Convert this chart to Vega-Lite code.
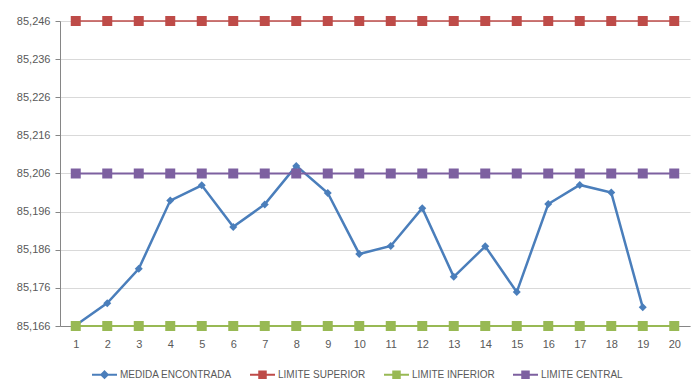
{
  "$schema": "https://vega.github.io/schema/vega-lite/v6.json",
  "width": 630,
  "height": 305,
  "autosize": {"type": "none"},
  "padding": {"left": 60, "top": 21, "right": 4, "bottom": 59},
  "background": "white",
  "config": {
    "font": "Liberation Sans",
    "view": {"stroke": null},
    "axis": {"labelFont": "Liberation Sans", "labelColor": "#595959", "labelFontSize": 11}
  },
  "data": {
    "values": [
      {"x": 1, "serie": "MEDIDA ENCONTRADA", "valor": 85.1662},
      {"x": 2, "serie": "MEDIDA ENCONTRADA", "valor": 85.1720},
      {"x": 3, "serie": "MEDIDA ENCONTRADA", "valor": 85.1810},
      {"x": 4, "serie": "MEDIDA ENCONTRADA", "valor": 85.1989},
      {"x": 5, "serie": "MEDIDA ENCONTRADA", "valor": 85.2029},
      {"x": 6, "serie": "MEDIDA ENCONTRADA", "valor": 85.1920},
      {"x": 7, "serie": "MEDIDA ENCONTRADA", "valor": 85.1979},
      {"x": 8, "serie": "MEDIDA ENCONTRADA", "valor": 85.2080},
      {"x": 9, "serie": "MEDIDA ENCONTRADA", "valor": 85.2009},
      {"x": 10, "serie": "MEDIDA ENCONTRADA", "valor": 85.1849},
      {"x": 11, "serie": "MEDIDA ENCONTRADA", "valor": 85.1870},
      {"x": 12, "serie": "MEDIDA ENCONTRADA", "valor": 85.1969},
      {"x": 13, "serie": "MEDIDA ENCONTRADA", "valor": 85.1789},
      {"x": 14, "serie": "MEDIDA ENCONTRADA", "valor": 85.1869},
      {"x": 15, "serie": "MEDIDA ENCONTRADA", "valor": 85.1749},
      {"x": 16, "serie": "MEDIDA ENCONTRADA", "valor": 85.1980},
      {"x": 17, "serie": "MEDIDA ENCONTRADA", "valor": 85.2030},
      {"x": 18, "serie": "MEDIDA ENCONTRADA", "valor": 85.2010},
      {"x": 19, "serie": "MEDIDA ENCONTRADA", "valor": 85.1709},
      {"x": 1, "serie": "LIMITE SUPERIOR", "valor": 85.246},
      {"x": 2, "serie": "LIMITE SUPERIOR", "valor": 85.246},
      {"x": 3, "serie": "LIMITE SUPERIOR", "valor": 85.246},
      {"x": 4, "serie": "LIMITE SUPERIOR", "valor": 85.246},
      {"x": 5, "serie": "LIMITE SUPERIOR", "valor": 85.246},
      {"x": 6, "serie": "LIMITE SUPERIOR", "valor": 85.246},
      {"x": 7, "serie": "LIMITE SUPERIOR", "valor": 85.246},
      {"x": 8, "serie": "LIMITE SUPERIOR", "valor": 85.246},
      {"x": 9, "serie": "LIMITE SUPERIOR", "valor": 85.246},
      {"x": 10, "serie": "LIMITE SUPERIOR", "valor": 85.246},
      {"x": 11, "serie": "LIMITE SUPERIOR", "valor": 85.246},
      {"x": 12, "serie": "LIMITE SUPERIOR", "valor": 85.246},
      {"x": 13, "serie": "LIMITE SUPERIOR", "valor": 85.246},
      {"x": 14, "serie": "LIMITE SUPERIOR", "valor": 85.246},
      {"x": 15, "serie": "LIMITE SUPERIOR", "valor": 85.246},
      {"x": 16, "serie": "LIMITE SUPERIOR", "valor": 85.246},
      {"x": 17, "serie": "LIMITE SUPERIOR", "valor": 85.246},
      {"x": 18, "serie": "LIMITE SUPERIOR", "valor": 85.246},
      {"x": 19, "serie": "LIMITE SUPERIOR", "valor": 85.246},
      {"x": 20, "serie": "LIMITE SUPERIOR", "valor": 85.246},
      {"x": 1, "serie": "LIMITE INFERIOR", "valor": 85.166},
      {"x": 2, "serie": "LIMITE INFERIOR", "valor": 85.166},
      {"x": 3, "serie": "LIMITE INFERIOR", "valor": 85.166},
      {"x": 4, "serie": "LIMITE INFERIOR", "valor": 85.166},
      {"x": 5, "serie": "LIMITE INFERIOR", "valor": 85.166},
      {"x": 6, "serie": "LIMITE INFERIOR", "valor": 85.166},
      {"x": 7, "serie": "LIMITE INFERIOR", "valor": 85.166},
      {"x": 8, "serie": "LIMITE INFERIOR", "valor": 85.166},
      {"x": 9, "serie": "LIMITE INFERIOR", "valor": 85.166},
      {"x": 10, "serie": "LIMITE INFERIOR", "valor": 85.166},
      {"x": 11, "serie": "LIMITE INFERIOR", "valor": 85.166},
      {"x": 12, "serie": "LIMITE INFERIOR", "valor": 85.166},
      {"x": 13, "serie": "LIMITE INFERIOR", "valor": 85.166},
      {"x": 14, "serie": "LIMITE INFERIOR", "valor": 85.166},
      {"x": 15, "serie": "LIMITE INFERIOR", "valor": 85.166},
      {"x": 16, "serie": "LIMITE INFERIOR", "valor": 85.166},
      {"x": 17, "serie": "LIMITE INFERIOR", "valor": 85.166},
      {"x": 18, "serie": "LIMITE INFERIOR", "valor": 85.166},
      {"x": 19, "serie": "LIMITE INFERIOR", "valor": 85.166},
      {"x": 20, "serie": "LIMITE INFERIOR", "valor": 85.166},
      {"x": 1, "serie": "LIMITE CENTRAL", "valor": 85.206},
      {"x": 2, "serie": "LIMITE CENTRAL", "valor": 85.206},
      {"x": 3, "serie": "LIMITE CENTRAL", "valor": 85.206},
      {"x": 4, "serie": "LIMITE CENTRAL", "valor": 85.206},
      {"x": 5, "serie": "LIMITE CENTRAL", "valor": 85.206},
      {"x": 6, "serie": "LIMITE CENTRAL", "valor": 85.206},
      {"x": 7, "serie": "LIMITE CENTRAL", "valor": 85.206},
      {"x": 8, "serie": "LIMITE CENTRAL", "valor": 85.206},
      {"x": 9, "serie": "LIMITE CENTRAL", "valor": 85.206},
      {"x": 10, "serie": "LIMITE CENTRAL", "valor": 85.206},
      {"x": 11, "serie": "LIMITE CENTRAL", "valor": 85.206},
      {"x": 12, "serie": "LIMITE CENTRAL", "valor": 85.206},
      {"x": 13, "serie": "LIMITE CENTRAL", "valor": 85.206},
      {"x": 14, "serie": "LIMITE CENTRAL", "valor": 85.206},
      {"x": 15, "serie": "LIMITE CENTRAL", "valor": 85.206},
      {"x": 16, "serie": "LIMITE CENTRAL", "valor": 85.206},
      {"x": 17, "serie": "LIMITE CENTRAL", "valor": 85.206},
      {"x": 18, "serie": "LIMITE CENTRAL", "valor": 85.206},
      {"x": 19, "serie": "LIMITE CENTRAL", "valor": 85.206},
      {"x": 20, "serie": "LIMITE CENTRAL", "valor": 85.206}
    ]
  },
  "encoding": {
    "x": {
      "field": "x",
      "type": "ordinal",
      "scale": {"type": "point", "padding": 0.5},
      "axis": {
        "title": null,
        "labelAngle": 0,
        "ticks": false,
        "labelPadding": 12,
        "domainColor": "#868686",
        "grid": false
      }
    },
    "y": {
      "field": "valor",
      "type": "quantitative",
      "scale": {"domain": [85.166, 85.246], "zero": false, "nice": false},
      "axis": {
        "title": null,
        "values": [85.166, 85.176, 85.186, 85.196, 85.206, 85.216, 85.226, 85.236, 85.246],
        "labelExpr": "replace(format(datum.value, '.3f'), '.', ',')",
        "grid": true,
        "gridColor": "#D9D9D9",
        "gridWidth": 1,
        "domainColor": "#868686",
        "tickColor": "#868686",
        "tickSize": 5,
        "labelPadding": 5
      }
    },
    "color": {
      "field": "serie",
      "type": "nominal",
      "scale": {
        "domain": ["MEDIDA ENCONTRADA", "LIMITE SUPERIOR", "LIMITE INFERIOR", "LIMITE CENTRAL"],
        "range": ["#4A7EBB", "#BE4B48", "#98B954", "#7D60A0"]
      },
      "legend": {
        "title": null,
        "orient": "none",
        "direction": "horizontal",
        "columns": 4,
        "legendX": 31,
        "legendY": 340,
        "padding": 0,
        "symbolSize": 625,
        "symbolStrokeWidth": 2,
        "labelFont": "Liberation Sans",
        "labelFontSize": 10,
        "labelColor": "#595959",
        "labelOffset": 2,
        "columnPadding": 14,
        "encode": {
          "symbols": {
            "update": {
              "shape": {"signal": "datum.value === 'MEDIDA ENCONTRADA' ? 'M-1,0H1M0,-0.26L0.26,0L0,0.26L-0.26,0Z' : 'M-1,0H1M-0.26,-0.26H0.26V0.26H-0.26Z'"},
              "fill": {"scale": "color", "field": "value"},
              "stroke": {"scale": "color", "field": "value"},
              "strokeWidth": {"value": 2},
              "opacity": {"value": 1}
            }
          }
        }
      }
    }
  },
  "layer": [
    {
      "transform": [{"filter": "datum.serie === 'MEDIDA ENCONTRADA'"}],
      "mark": {"type": "line", "strokeWidth": 2.5}
    },
    {
      "transform": [{"filter": "datum.serie === 'MEDIDA ENCONTRADA'"}],
      "mark": {"type": "point", "shape": "diamond", "filled": true, "size": 64, "opacity": 1}
    },
    {
      "transform": [{"filter": "datum.serie !== 'MEDIDA ENCONTRADA'"}],
      "mark": {"type": "line"},
      "encoding": {
        "strokeWidth": {
          "field": "serie",
          "type": "nominal",
          "scale": {"domain": ["LIMITE SUPERIOR", "LIMITE INFERIOR", "LIMITE CENTRAL"], "range": [1.5, 2.2, 2.5]},
          "legend": null
        }
      }
    },
    {
      "transform": [{"filter": "datum.serie !== 'MEDIDA ENCONTRADA'"}],
      "mark": {"type": "point", "shape": "square", "filled": true, "size": 100, "opacity": 1}
    }
  ]
}
